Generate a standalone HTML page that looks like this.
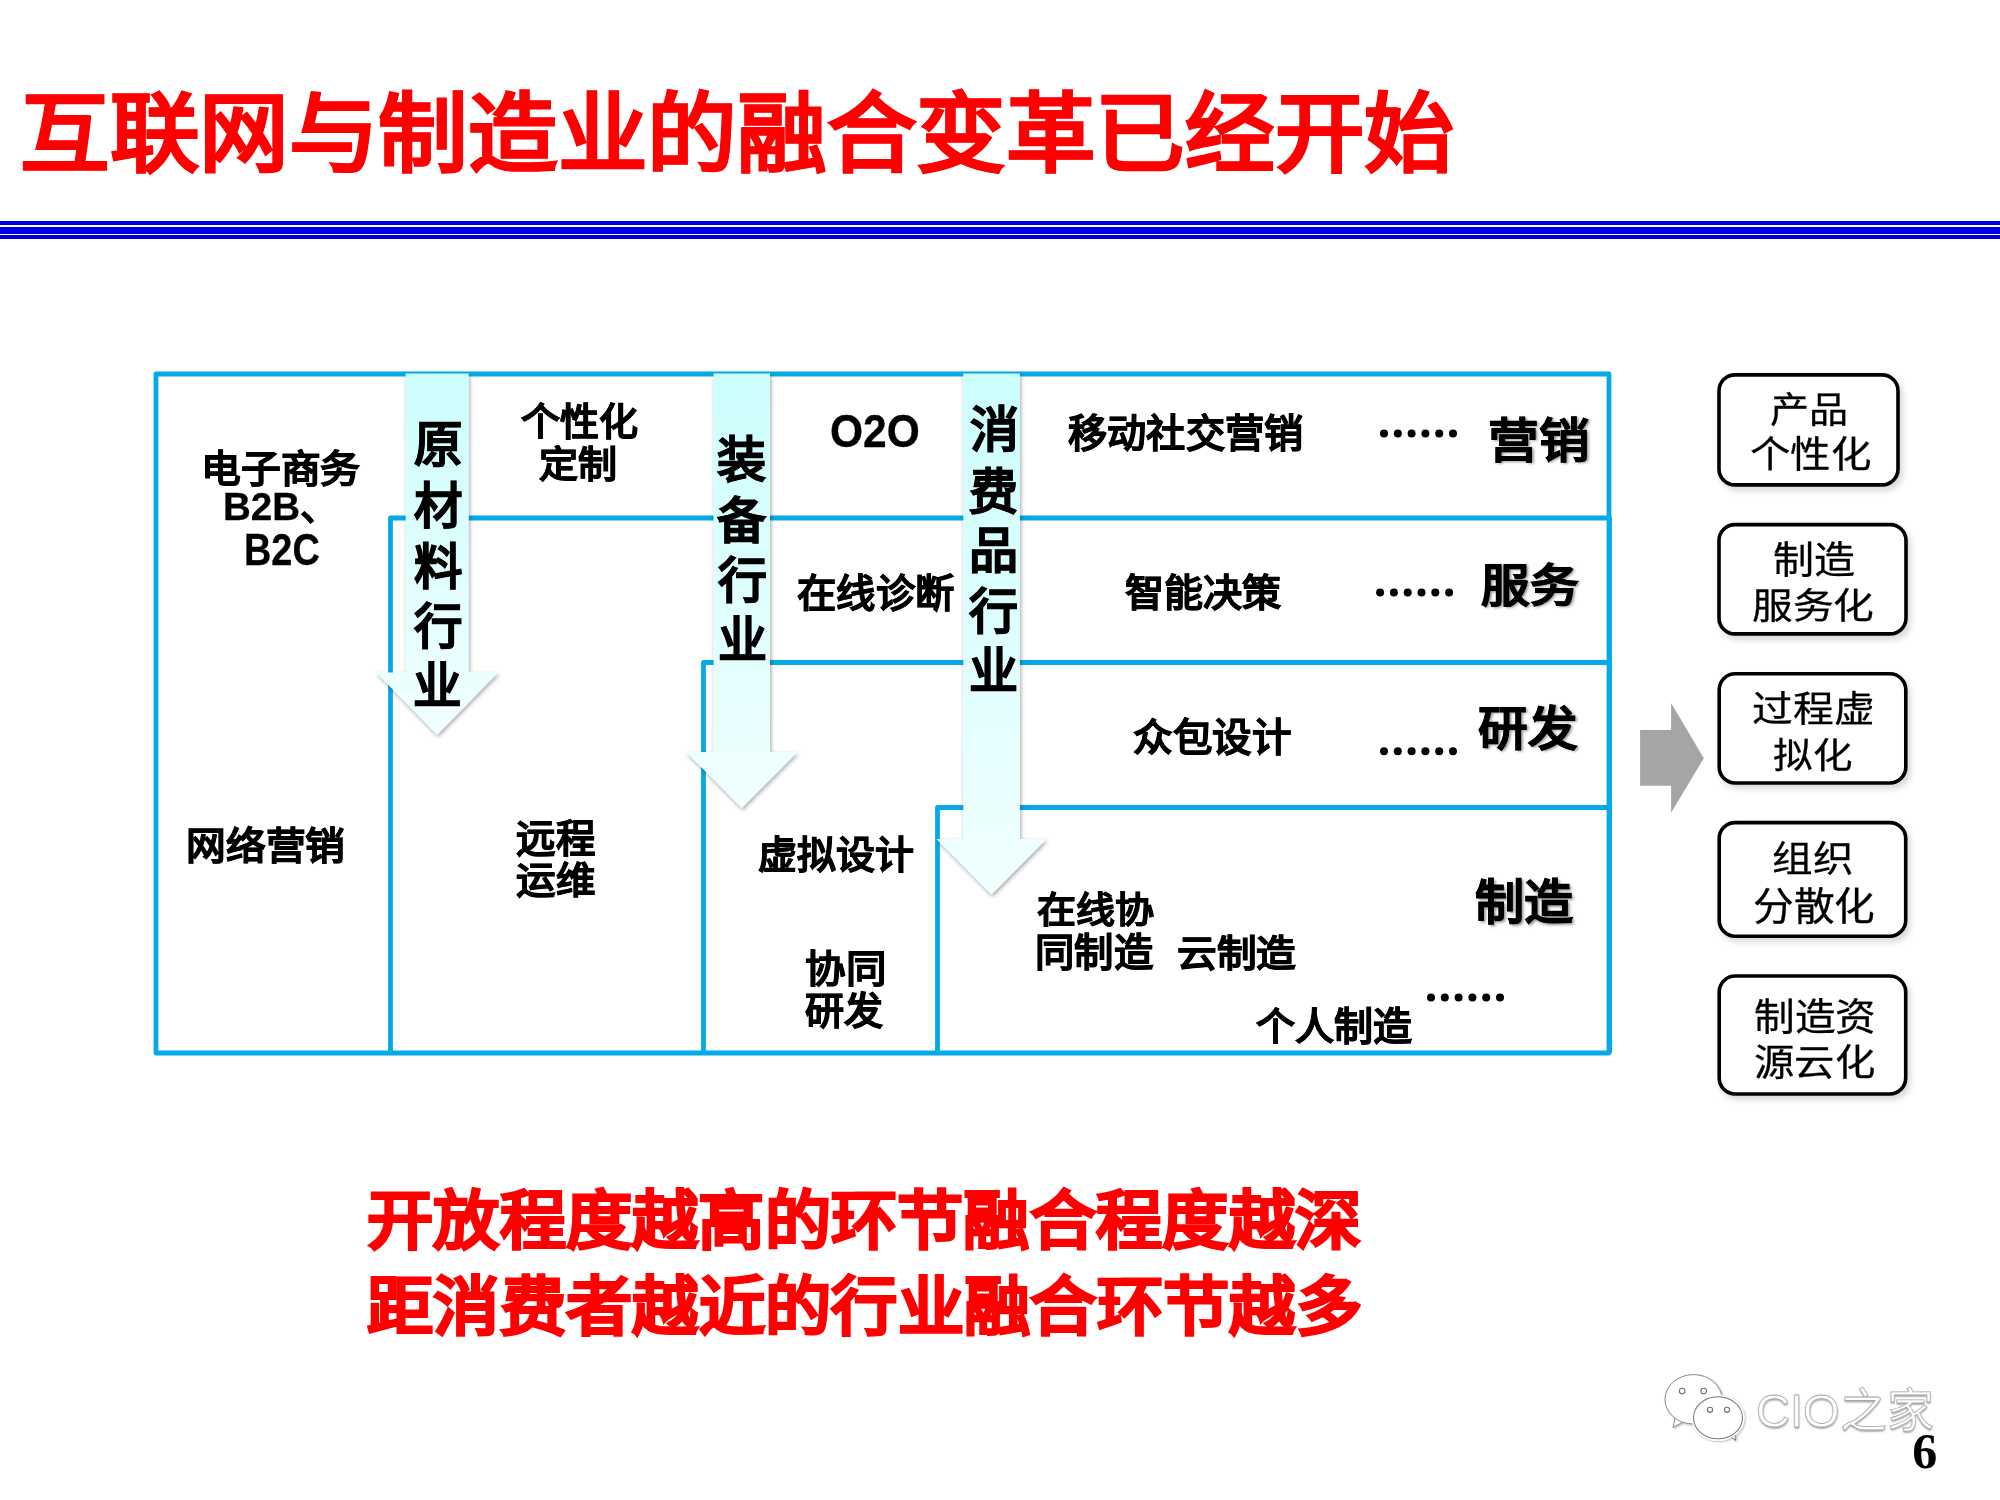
<!DOCTYPE html>
<html lang="zh-CN"><head><meta charset="utf-8"><title>slide</title>
<style>html,body{margin:0;padding:0;background:#fff;}
body{width:2000px;height:1500px;position:relative;overflow:hidden;font-family:"Liberation Sans",sans-serif;}
.tx{position:absolute;white-space:nowrap;}
</style></head><body>
<svg width="2000" height="1500" viewBox="0 0 2000 1500" style="position:absolute;left:0;top:0">
<defs>
<linearGradient id="ag" x1="0" y1="0" x2="0" y2="1"><stop offset="0" stop-color="#cbfefd"/><stop offset="1" stop-color="#f1ffff"/></linearGradient>
<filter id="ash" x="-30%" y="-10%" width="160%" height="130%"><feGaussianBlur in="SourceAlpha" stdDeviation="2"/><feOffset dx="1.2" dy="2" result="o"/><feComponentTransfer><feFuncA type="linear" slope="0.36"/></feComponentTransfer><feMerge><feMergeNode/><feMergeNode in="SourceGraphic"/></feMerge></filter>
<filter id="bsh" x="-10%" y="-10%" width="130%" height="140%"><feGaussianBlur in="SourceAlpha" stdDeviation="3"/><feOffset dx="3" dy="4"/><feComponentTransfer><feFuncA type="linear" slope="0.16"/></feComponentTransfer><feMerge><feMergeNode/><feMergeNode in="SourceGraphic"/></feMerge></filter>
<filter id="wsh" x="-20%" y="-20%" width="140%" height="140%"><feGaussianBlur in="SourceAlpha" stdDeviation="1"/><feOffset dx="0.5" dy="1.2"/><feComponentTransfer><feFuncA type="linear" slope="0.3"/></feComponentTransfer><feMerge><feMergeNode/><feMergeNode in="SourceGraphic"/></feMerge></filter>
</defs>
<rect x="0" y="221" width="2000" height="4" fill="#0000c0"/>
<rect x="0" y="222" width="2000" height="2" fill="#0000f0"/>
<rect x="0" y="227" width="2000" height="7" fill="#0000c0"/>
<rect x="0" y="228" width="2000" height="5" fill="#0000f0"/>
<rect x="0" y="235" width="2000" height="4" fill="#0000c0"/>
<rect x="0" y="236" width="2000" height="2" fill="#0000f0"/>
<path d="M156,374 H1609 V1053 H156 Z" fill="none" stroke="#06a9e8" stroke-width="4.8" stroke-linejoin="round"/>
<path d="M390.5,1053 V518 H1609.5 V1053" fill="none" stroke="#06a9e8" stroke-width="4.8" stroke-linejoin="round"/>
<path d="M703.5,1053 V662.5 H1609.5 V1053" fill="none" stroke="#06a9e8" stroke-width="4.8" stroke-linejoin="round"/>
<path d="M937.5,1053 V807.5 H1609.5 V1053" fill="none" stroke="#06a9e8" stroke-width="4.8" stroke-linejoin="round"/>
<path d="M405.7,373.5 H468.7 V672.4 H498.2 L437.2,734.8 L376.2,672.4 H405.7 Z" fill="url(#ag)" filter="url(#ash)"/>
<path d="M713.5999999999999,373.5 H770.0 V752 H797.4 L741.8,808 L686.1999999999999,752 H713.5999999999999 Z" fill="url(#ag)" filter="url(#ash)"/>
<path d="M963.3000000000001,373.5 H1019.9 V839 H1046.6 L991.6,894.4 L936.6,839 H963.3000000000001 Z" fill="url(#ag)" filter="url(#ash)"/>
<circle cx="1384.0" cy="433.5" r="4" fill="#000"/>
<circle cx="1397.8" cy="433.5" r="4" fill="#000"/>
<circle cx="1411.6" cy="433.5" r="4" fill="#000"/>
<circle cx="1425.4" cy="433.5" r="4" fill="#000"/>
<circle cx="1439.2" cy="433.5" r="4" fill="#000"/>
<circle cx="1453.0" cy="433.5" r="4" fill="#000"/>
<circle cx="1380.1" cy="592.5" r="4" fill="#000"/>
<circle cx="1393.9" cy="592.5" r="4" fill="#000"/>
<circle cx="1407.7" cy="592.5" r="4" fill="#000"/>
<circle cx="1421.5" cy="592.5" r="4" fill="#000"/>
<circle cx="1435.3" cy="592.5" r="4" fill="#000"/>
<circle cx="1449.1" cy="592.5" r="4" fill="#000"/>
<circle cx="1384.0" cy="751.3" r="4" fill="#000"/>
<circle cx="1397.8" cy="751.3" r="4" fill="#000"/>
<circle cx="1411.6" cy="751.3" r="4" fill="#000"/>
<circle cx="1425.4" cy="751.3" r="4" fill="#000"/>
<circle cx="1439.2" cy="751.3" r="4" fill="#000"/>
<circle cx="1453.0" cy="751.3" r="4" fill="#000"/>
<circle cx="1431.0" cy="997.4" r="4" fill="#000"/>
<circle cx="1444.8" cy="997.4" r="4" fill="#000"/>
<circle cx="1458.6" cy="997.4" r="4" fill="#000"/>
<circle cx="1472.4" cy="997.4" r="4" fill="#000"/>
<circle cx="1486.2" cy="997.4" r="4" fill="#000"/>
<circle cx="1500.0" cy="997.4" r="4" fill="#000"/>
<path d="M1640.1,730.1 H1671.1 V703.1 L1703.8,758.2 L1671.1,812.8 V785.7 H1640.1 Z" fill="#a5a5a5"/>
<rect x="1719" y="374.9" width="179.0" height="110.0" rx="16" ry="16" fill="#fff" stroke="#000" stroke-width="3.6" filter="url(#bsh)"/>
<rect x="1719" y="524.6" width="187.0" height="109.3" rx="16" ry="16" fill="#fff" stroke="#000" stroke-width="3.6" filter="url(#bsh)"/>
<rect x="1719.2" y="673.8" width="186.6" height="109.2" rx="16" ry="16" fill="#fff" stroke="#000" stroke-width="3.6" filter="url(#bsh)"/>
<rect x="1719.2" y="822.6" width="186.5" height="113.6" rx="16" ry="16" fill="#fff" stroke="#000" stroke-width="3.6" filter="url(#bsh)"/>
<rect x="1719.2" y="976" width="186.5" height="118.0" rx="16" ry="16" fill="#fff" stroke="#000" stroke-width="3.6" filter="url(#bsh)"/>
<g filter="url(#wsh)">
<path d="M1675.5,1417 L1673,1427.5 L1684,1421.5 Z" fill="#fff" stroke="#8a8a8a" stroke-width="1"/>
<ellipse cx="1693.5" cy="1399.3" rx="28.5" ry="24.7" fill="#fff" stroke="#8a8a8a" stroke-width="1"/>
<path d="M1676.2,1416.2 L1684.5,1421.2" stroke="#fff" stroke-width="2.2"/>
<circle cx="1682.2" cy="1391" r="2.8" fill="#fff" stroke="#707070" stroke-width="1.1"/>
<circle cx="1703.7" cy="1391" r="2.8" fill="#fff" stroke="#707070" stroke-width="1.1"/>
<path d="M1729,1435 L1735.5,1440.5 L1735,1431 Z" fill="#fff" stroke="#7a7a7a" stroke-width="1"/>
<ellipse cx="1718" cy="1417.8" rx="24.5" ry="21" fill="#fff" stroke="#fff" stroke-width="4"/>
<ellipse cx="1718" cy="1417.8" rx="24.5" ry="21" fill="#fff" stroke="#7a7a7a" stroke-width="1.1"/>
<path d="M1729.5,1434.5 L1734.5,1431.5" stroke="#fff" stroke-width="2"/>
<circle cx="1710" cy="1409.8" r="2.6" fill="#fff" stroke="#707070" stroke-width="1.1"/>
<circle cx="1727" cy="1409.8" r="2.6" fill="#fff" stroke="#707070" stroke-width="1.1"/>
</g>
</svg>
<div id="title" class="tx" style="left:19.99px;top:91.92px;font-size:89.00px;font-weight:700;color:#ff0000;line-height:1;transform:scale(1.0070,0.9775);transform-origin:0 0;-webkit-text-stroke:1.0px #ff0000;">互联网与制造业的融合变革已经开始</div>
<div id="t_dzsw" class="tx" style="left:200.87px;top:449.99px;font-size:39.00px;font-weight:700;color:#000;line-height:1;transform:scale(1.0202,0.9744);transform-origin:0 0;-webkit-text-stroke:0.7px #000;">电子商务</div>
<div id="t_b2b" class="tx" style="left:223.27px;top:486.69px;font-size:39.00px;font-weight:700;color:#000;line-height:1;transform:scale(0.9893,1.0031);transform-origin:0 0;-webkit-text-stroke:0.3px #000;">B2B、</div>
<div id="t_b2c" class="tx" style="left:243.51px;top:527.95px;font-size:41.00px;font-weight:700;color:#000;line-height:1;transform:scale(0.9236,1.0868);transform-origin:0 0;-webkit-text-stroke:0.3px #000;">B2C</div>
<div id="t_gxh" class="tx" style="left:520.96px;top:403.11px;font-size:39.00px;font-weight:700;color:#000;line-height:1;transform:scale(1.0007,0.9759);transform-origin:0 0;-webkit-text-stroke:0.7px #000;">个性化</div>
<div id="t_dz" class="tx" style="left:538.96px;top:446.91px;font-size:38.00px;font-weight:700;color:#000;line-height:1;transform:scale(1.0279,0.9771);transform-origin:0 0;-webkit-text-stroke:0.7px #000;">定制</div>
<div id="v1_0" class="tx" style="left:414.15px;top:420.85px;font-size:48.50px;font-weight:700;color:#000;line-height:1;-webkit-text-stroke:0.8px #000;">原</div>
<div id="v1_1" class="tx" style="left:413.85px;top:481.65px;font-size:48.50px;font-weight:700;color:#000;line-height:1;-webkit-text-stroke:0.8px #000;">材</div>
<div id="v1_2" class="tx" style="left:413.95px;top:543.28px;font-size:48.50px;font-weight:700;color:#000;line-height:1;-webkit-text-stroke:0.8px #000;">料</div>
<div id="v1_3" class="tx" style="left:413.95px;top:602.68px;font-size:48.50px;font-weight:700;color:#000;line-height:1;-webkit-text-stroke:0.8px #000;">行</div>
<div id="v1_4" class="tx" style="left:413.45px;top:661.88px;font-size:48.50px;font-weight:700;color:#000;line-height:1;-webkit-text-stroke:0.8px #000;">业</div>
<div id="v2_0" class="tx" style="left:717.25px;top:436.20px;font-size:49.00px;font-weight:700;color:#000;line-height:1;-webkit-text-stroke:0.8px #000;">装</div>
<div id="v2_1" class="tx" style="left:717.00px;top:496.60px;font-size:49.00px;font-weight:700;color:#000;line-height:1;-webkit-text-stroke:0.8px #000;">备</div>
<div id="v2_2" class="tx" style="left:718.00px;top:556.50px;font-size:49.00px;font-weight:700;color:#000;line-height:1;-webkit-text-stroke:0.8px #000;">行</div>
<div id="v2_3" class="tx" style="left:717.50px;top:616.35px;font-size:49.00px;font-weight:700;color:#000;line-height:1;-webkit-text-stroke:0.8px #000;">业</div>
<div id="v3_0" class="tx" style="left:969.70px;top:406.40px;font-size:49.00px;font-weight:700;color:#000;line-height:1;-webkit-text-stroke:0.8px #000;">消</div>
<div id="v3_1" class="tx" style="left:969.20px;top:468.15px;font-size:49.00px;font-weight:700;color:#000;line-height:1;-webkit-text-stroke:0.8px #000;">费</div>
<div id="v3_2" class="tx" style="left:968.95px;top:527.17px;font-size:49.00px;font-weight:700;color:#000;line-height:1;-webkit-text-stroke:0.8px #000;">品</div>
<div id="v3_3" class="tx" style="left:969.20px;top:587.75px;font-size:49.00px;font-weight:700;color:#000;line-height:1;-webkit-text-stroke:0.8px #000;">行</div>
<div id="v3_4" class="tx" style="left:968.70px;top:647.35px;font-size:49.00px;font-weight:700;color:#000;line-height:1;-webkit-text-stroke:0.8px #000;">业</div>
<div id="t_o2o" class="tx" style="left:829.55px;top:407.88px;font-size:45.00px;font-weight:700;color:#000;line-height:1;transform:scale(0.9458,1.0373);transform-origin:0 0;-webkit-text-stroke:0.3px #000;">O2O</div>
<div id="t_zxzd" class="tx" style="left:797.01px;top:575.12px;font-size:38.00px;font-weight:700;color:#000;line-height:1;transform:scale(1.0337,1.0050);transform-origin:0 0;-webkit-text-stroke:0.7px #000;">在线诊断</div>
<div id="t_ydsj" class="tx" style="left:1068.21px;top:414.37px;font-size:39.00px;font-weight:700;color:#000;line-height:1;transform:scale(1.0044,1.0012);transform-origin:0 0;-webkit-text-stroke:0.7px #000;">移动社交营销</div>
<div id="t_yx" class="tx" style="left:1487.73px;top:417.31px;font-size:50.00px;font-weight:700;color:#000;line-height:1;transform:scale(1.0107,0.9431);transform-origin:0 0;-webkit-text-stroke:0.8px #000;text-shadow:2px 2px 3px rgba(0,0,0,.45);">营销</div>
<div id="t_znjc" class="tx" style="left:1125.37px;top:573.96px;font-size:39.00px;font-weight:700;color:#000;line-height:1;transform:scale(1.0006,0.9744);transform-origin:0 0;-webkit-text-stroke:0.7px #000;">智能决策</div>
<div id="t_fw" class="tx" style="left:1480.98px;top:563.78px;font-size:48.00px;font-weight:700;color:#000;line-height:1;transform:scale(1.0115,0.9402);transform-origin:0 0;-webkit-text-stroke:0.8px #000;text-shadow:2px 2px 3px rgba(0,0,0,.45);">服务</div>
<div id="t_zbsj" class="tx" style="left:1133.19px;top:718.59px;font-size:39.00px;font-weight:700;color:#000;line-height:1;transform:scale(1.0133,0.9777);transform-origin:0 0;-webkit-text-stroke:0.7px #000;">众包设计</div>
<div id="t_yf" class="tx" style="left:1477.96px;top:705.12px;font-size:50.00px;font-weight:700;color:#000;line-height:1;transform:scale(0.9915,0.9423);transform-origin:0 0;-webkit-text-stroke:0.8px #000;text-shadow:2px 2px 3px rgba(0,0,0,.45);">研发</div>
<div id="t_wlyx" class="tx" style="left:185.56px;top:826.73px;font-size:39.00px;font-weight:700;color:#000;line-height:1;transform:scale(1.0199,0.9757);transform-origin:0 0;-webkit-text-stroke:0.7px #000;">网络营销</div>
<div id="t_yc" class="tx" style="left:515.77px;top:818.71px;font-size:40.00px;font-weight:700;color:#000;line-height:1;transform:scale(0.9878,0.9779);transform-origin:0 0;-webkit-text-stroke:0.7px #000;">远程</div>
<div id="t_yw" class="tx" style="left:515.77px;top:862.79px;font-size:39.00px;font-weight:700;color:#000;line-height:1;transform:scale(1.0138,0.9498);transform-origin:0 0;-webkit-text-stroke:0.7px #000;">运维</div>
<div id="t_xnsj" class="tx" style="left:757.79px;top:835.91px;font-size:39.00px;font-weight:700;color:#000;line-height:1;transform:scale(1.0002,0.9757);transform-origin:0 0;-webkit-text-stroke:0.7px #000;">虚拟设计</div>
<div id="t_xt" class="tx" style="left:805.15px;top:950.14px;font-size:40.00px;font-weight:700;color:#000;line-height:1;transform:scale(1.0140,0.9515);transform-origin:0 0;-webkit-text-stroke:0.7px #000;">协同</div>
<div id="t_yf2" class="tx" style="left:805.22px;top:991.97px;font-size:39.00px;font-weight:700;color:#000;line-height:1;transform:scale(1.0005,0.9744);transform-origin:0 0;-webkit-text-stroke:0.7px #000;">研发</div>
<div id="t_zxx" class="tx" style="left:1036.99px;top:893.12px;font-size:38.00px;font-weight:700;color:#000;line-height:1;transform:scale(1.0269,0.9474);transform-origin:0 0;-webkit-text-stroke:0.7px #000;">在线协</div>
<div id="t_tzz" class="tx" style="left:1034.97px;top:933.95px;font-size:39.00px;font-weight:700;color:#000;line-height:1;transform:scale(1.0089,0.9775);transform-origin:0 0;-webkit-text-stroke:0.7px #000;">同制造</div>
<div id="t_yzz" class="tx" style="left:1176.77px;top:935.86px;font-size:38.00px;font-weight:700;color:#000;line-height:1;transform:scale(1.0444,0.9777);transform-origin:0 0;-webkit-text-stroke:0.7px #000;">云制造</div>
<div id="t_zz" class="tx" style="left:1474.98px;top:879.30px;font-size:50.00px;font-weight:700;color:#000;line-height:1;transform:scale(0.9806,0.9610);transform-origin:0 0;-webkit-text-stroke:0.8px #000;text-shadow:2px 2px 3px rgba(0,0,0,.45);">制造</div>
<div id="t_grzz" class="tx" style="left:1256.17px;top:1007.53px;font-size:39.00px;font-weight:700;color:#000;line-height:1;transform:scale(1.0004,0.9775);transform-origin:0 0;-webkit-text-stroke:0.7px #000;">个人制造</div>
<div id="b1a" class="tx" style="left:1769.96px;top:392.57px;font-size:38.00px;font-weight:400;color:#000;line-height:1;transform:scale(1.0283,0.9462);transform-origin:0 0;-webkit-text-stroke:0.3px #000;">产品</div>
<div id="b1b" class="tx" style="left:1749.91px;top:437.34px;font-size:38.00px;font-weight:400;color:#000;line-height:1;transform:scale(1.0640,0.9785);transform-origin:0 0;-webkit-text-stroke:0.3px #000;">个性化</div>
<div id="b2a" class="tx" style="left:1772.98px;top:540.74px;font-size:40.00px;font-weight:400;color:#000;line-height:1;transform:scale(1.0263,0.9491);transform-origin:0 0;-webkit-text-stroke:0.3px #000;">制造</div>
<div id="b2b" class="tx" style="left:1752.01px;top:588.58px;font-size:38.00px;font-weight:400;color:#000;line-height:1;transform:scale(1.0721,0.9462);transform-origin:0 0;-webkit-text-stroke:0.3px #000;">服务化</div>
<div id="b3a" class="tx" style="left:1751.99px;top:691.90px;font-size:38.00px;font-weight:400;color:#000;line-height:1;transform:scale(1.0725,0.9462);transform-origin:0 0;-webkit-text-stroke:0.3px #000;">过程虚</div>
<div id="b3b" class="tx" style="left:1772.98px;top:738.62px;font-size:37.00px;font-weight:400;color:#000;line-height:1;transform:scale(1.0698,0.9447);transform-origin:0 0;-webkit-text-stroke:0.3px #000;">拟化</div>
<div id="b4a" class="tx" style="left:1771.99px;top:841.17px;font-size:39.00px;font-weight:400;color:#000;line-height:1;transform:scale(1.0405,0.9467);transform-origin:0 0;-webkit-text-stroke:0.3px #000;">组织</div>
<div id="b4b" class="tx" style="left:1752.74px;top:887.86px;font-size:39.00px;font-weight:400;color:#000;line-height:1;transform:scale(1.0443,0.9772);transform-origin:0 0;-webkit-text-stroke:0.3px #000;">分散化</div>
<div id="b5a" class="tx" style="left:1753.79px;top:997.55px;font-size:40.00px;font-weight:400;color:#000;line-height:1;transform:scale(1.0175,0.9511);transform-origin:0 0;-webkit-text-stroke:0.3px #000;">制造资</div>
<div id="b5b" class="tx" style="left:1753.77px;top:1044.60px;font-size:39.00px;font-weight:400;color:#000;line-height:1;transform:scale(1.0353,0.9518);transform-origin:0 0;-webkit-text-stroke:0.3px #000;">源云化</div>
<div id="bot1" class="tx" style="left:366.99px;top:1188.96px;font-size:66.00px;font-weight:700;color:#ff0000;line-height:1;transform:scale(1.0041,0.9596);transform-origin:0 0;-webkit-text-stroke:2.0px #ff0000;">开放程度越高的环节融合程度越深</div>
<div id="bot2" class="tx" style="left:367.00px;top:1274.84px;font-size:66.00px;font-weight:700;color:#ff0000;line-height:1;transform:scale(1.0051,0.9603);transform-origin:0 0;-webkit-text-stroke:2.0px #ff0000;">距消费者越近的行业融合环节越多</div>
<div id="wm" class="tx" style="left:1756px;top:1387px;font-size:47px;line-height:1;color:#fff;-webkit-text-stroke:0.8px #a8a8a8;text-shadow:0.5px 1.5px 1.5px rgba(0,0,0,.3);font-weight:400">CIO之家</div>
<div id="pg" class="tx" style="left:1912.3px;top:1426.2px;font-size:50px;line-height:1;font-family:'Liberation Serif',serif;font-weight:700;color:#000">6</div>
</body></html>
